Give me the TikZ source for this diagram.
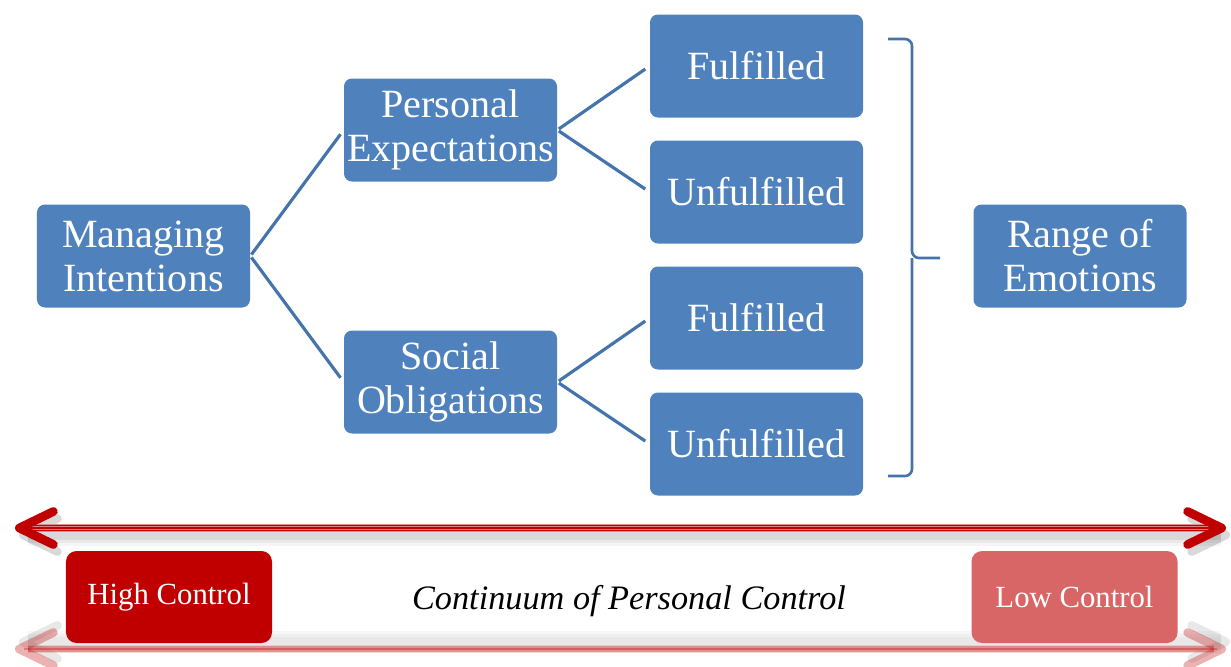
\documentclass[tikz,border=0pt]{standalone}
\usepackage{fontspec}
\setmainfont{Liberation Serif}
\usetikzlibrary{arrows.meta}

\definecolor{boxblue}{HTML}{4F81BD}
\definecolor{lineblue}{HTML}{4574AC}
\definecolor{darkred}{HTML}{C00000}
\definecolor{softred}{HTML}{D96666}

\tikzset{
  barb/.tip={Straight Barb[length=6.8mm,width=6.6mm,line width=5pt,round]},
  redline/.style={line width=#1, shorten <=2.5mm, shorten >=2.5mm},
}

\begin{document}
\begin{tikzpicture}[x=0.2mm,y=-0.2mm,
    every node/.style={text=white, align=center, inner sep=0pt},
    idea/.style={fill=boxblue, rounded corners=4.5pt, minimum width=42.6mm,
      minimum height=20.6mm, font=\fontsize{22.8}{25}\selectfont},
    link/.style={lineblue, line width=1.8pt, shorten <=1pt, shorten >=3pt},
    ctrl/.style={rounded corners=6pt, minimum width=41.2mm, minimum height=18.4mm,
      font=\fontsize{17.5}{20}\selectfont}]
  \useasboundingbox (0,0) rectangle (1231,666);

  %%%%% THE TREE
  \node[idea] (MI) at (143.5,256) {Managing\\Intentions};
  \node[idea] (PE) at (450.5,130) {Personal\\Expectations};
  \node[idea] (SO) at (450.5,382) {Social\\Obligations};
  \node[idea] (PF) at (756.5,66)  {Fulfilled};
  \node[idea] (PU) at (756.5,192) {Unfulfilled};
  \node[idea] (SF) at (756.5,318) {Fulfilled};
  \node[idea] (SU) at (756.5,444) {Unfulfilled};
  \node[idea] (RE) at (1080,256)  {Range of\\Emotions};

  % branches
  \draw[link] (MI.east) -- (PE.west);
  \draw[link] (MI.east) -- (SO.west);
  \draw[link] (PE.east) -- (PF.west);
  \draw[link] (PE.east) -- (PU.west);
  \draw[link] (SO.east) -- (SF.west);
  \draw[link] (SO.east) -- (SU.west);

  % brace round the outcomes
  \coordinate (BTOP) at (888,39);
  \coordinate (BBOT) at (888,476);
  \coordinate (BTIP) at (940,258);
  \draw[lineblue, line width=1.5pt, rounded corners=4pt] (BTOP) -| (912,258) -- (BTIP);
  \draw[lineblue, line width=1.5pt, rounded corners=4pt] (BBOT) -| (912,258);

  %%%%% THE CONTINUUM
  \coordinate (AL) at (15,528);
  \coordinate (AR) at (1226,528);
  \coordinate (RL) at (15,649);
  \coordinate (RR) at (1226,649);

  % soft shadow
  \foreach \w/\o in {12pt/0.04, 9pt/0.05, 6pt/0.07} {
    \draw[black, opacity=\o, line width=\w, barb-barb] ([shift={(4,7)}]AL) -- ([shift={(4,7)}]AR);
    \draw[black, opacity=0.03, line width=\w, barb-barb] ([shift={(4,-7)}]RL) -- ([shift={(4,-7)}]RR);
  }

  % main arrow
  \draw[darkred!45!white, redline=4.8pt] (AL) -- (AR);
  \draw[darkred, redline=3.4pt] (AL) -- (AR);
  \draw[darkred!50!white, redline=1.8pt] (AL) -- (AR);
  \draw[darkred, line width=0.8pt, barb-barb] (AL) -- (AR);

  % faded reflection
  \begin{scope}[opacity=0.3]
    \draw[darkred!45!white, redline=4.8pt] (RL) -- (RR);
    \draw[darkred, redline=3.4pt] (RL) -- (RR);
    \draw[darkred!50!white, redline=1.8pt] (RL) -- (RR);
    \draw[darkred, line width=0.8pt, barb-barb] (RL) -- (RR);
  \end{scope}

  \node[ctrl, fill=darkred] (HC) at (169,597) {High Control};
  \node[ctrl, fill=softred] (LC) at (1074.5,597) {Low Control};
  \node[text=black, font=\fontsize{19.5}{22}\selectfont\itshape] (CPC) at (629,601)
    {Continuum of Personal Control};
\end{tikzpicture}
\end{document}
